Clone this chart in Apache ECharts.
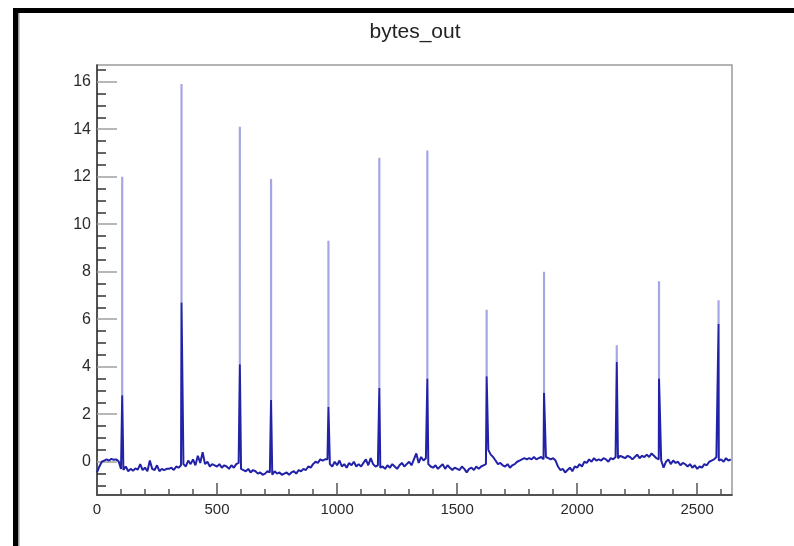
<!DOCTYPE html>
<html>
<head>
<meta charset="utf-8">
<title>bytes_out</title>
<script src="https://cdn.jsdelivr.net/npm/echarts@6/dist/echarts.min.js"></script>
<style>
  html, body { margin: 0; padding: 0; background: #ffffff; }
  #chart { width: 794px; height: 546px; }
</style>
</head>
<body>
<div id="chart"></div>
<script>
// Baseline samples of bytes_out, one every sampleStep bins starting at sampleStart
const sampleStart = 0;
const sampleStep = 10;
const baseline = [
  -0.45, -0.2, 0.0, 0.05, 0.1, 0.05, 0.12, 0.08, 0.1, 0.02,
  -0.3, -0.35, -0.2, -0.4, -0.3, -0.38, -0.28, -0.33, -0.1, -0.35,
  -0.25, -0.4, 0.05, -0.3, -0.35, -0.15, -0.4, -0.3, -0.35, -0.3,
  -0.3, -0.25, -0.35, -0.2, -0.25, -0.15, -0.1, -0.2, 0.05, -0.1,
  0.1, -0.15, 0.25, -0.05, 0.4, -0.1, 0.0, -0.2, -0.1, -0.15,
  -0.2, -0.1, -0.25, -0.15, -0.2, -0.3, -0.15, -0.25, -0.1, -0.05,
  -0.3, -0.35, -0.4, -0.3, -0.45, -0.35, -0.4, -0.5, -0.45, -0.55,
  -0.5, -0.4, -0.45, -0.55, -0.4, -0.5, -0.45, -0.55, -0.5, -0.45,
  -0.55, -0.45, -0.4, -0.5, -0.35, -0.4, -0.3, -0.35, -0.2, -0.25,
  -0.1, 0.0, -0.05, 0.1, 0.05, 0.1, 0.1, -0.1, -0.2, 0.0,
  -0.15, 0.05, -0.2, -0.1, -0.25, -0.05, -0.15, 0.0, -0.2, -0.1,
  -0.2, -0.05, 0.1, -0.15, 0.15, -0.1, -0.2, -0.15, -0.25, -0.2,
  -0.3, -0.15, -0.25, -0.1, -0.2, -0.3, -0.15, -0.05, -0.2, -0.1,
  0.0, -0.15, 0.1, 0.35, -0.05, 0.2, 0.05, 0.15, -0.1, -0.2,
  -0.25, -0.15, -0.3, -0.2, -0.1, -0.3, -0.15, -0.25, -0.35, -0.25,
  -0.3, -0.35, -0.2, -0.3, -0.45, -0.3, -0.25, -0.35, -0.2, -0.3,
  -0.2, -0.15, -0.1, 0.5, 0.3, 0.2, 0.05, -0.1, -0.05, -0.15,
  -0.2, -0.1, -0.25, -0.15, -0.1, 0.0, 0.05, 0.1, 0.15, 0.1,
  0.15, 0.1, 0.2, 0.1, 0.15, 0.2, 0.1, 0.2, 0.15, 0.1,
  0.15, 0.05, -0.2, -0.35, -0.3, -0.45, -0.35, -0.25, -0.4, -0.2,
  -0.25, -0.1, -0.2, 0.0, -0.05, 0.1, 0.0, 0.15, 0.05, 0.1,
  0.05, 0.15, 0.1, 0.0, 0.15, 0.1, 0.2, 0.15, 0.25, 0.2,
  0.15, 0.25, 0.2, 0.1, 0.2, 0.3, 0.15, 0.25, 0.2, 0.3,
  0.2, 0.35, 0.25, 0.15, 0.1, 0.05, -0.25, 0.0, 0.1, -0.1,
  0.05, -0.05, 0.0, -0.15, -0.05, -0.1, -0.2, -0.1, -0.25, -0.15,
  -0.3, -0.2, -0.25, -0.1, -0.15, 0.0, 0.05, 0.1, 0.2, 0.05,
  0.1, 0.0, 0.15, 0.05, 0.1
];

// Bursts: bin position, single-bin peak, and height of the neighbouring bins
const spikeX    = [105, 352, 595, 725, 964, 1176, 1376, 1623, 1862, 2165, 2341, 2589];
const spikePeak = [12.0, 15.9, 14.1, 11.9, 9.3, 12.8, 13.1, 6.4, 8.0, 4.9, 7.6, 6.8];
const spikeBody = [2.8, 6.7, 4.1, 2.6, 2.3, 3.1, 3.5, 3.6, 2.9, 4.2, 3.5, 5.8];

// Axis range and tick positions
const xMin = 0, xMax = 2645;
const yMin = -1.4, yMax = 16.7;
const xMajorTicks = [0, 500, 1000, 1500, 2000, 2500];
const xMinorTicks = [100, 200, 300, 400, 600, 700, 800, 900, 1100, 1200, 1300, 1400,
  1600, 1700, 1800, 1900, 2100, 2200, 2300, 2400, 2600];
const yMajorTicks = [0, 2, 4, 6, 8, 10, 12, 14, 16];
const yMinorTicks = [-1, -0.5, 0.5, 1, 1.5, 2.5, 3, 3.5, 4.5, 5, 5.5, 6.5, 7, 7.5,
  8.5, 9, 9.5, 10.5, 11, 11.5, 12.5, 13, 13.5, 14.5, 15, 15.5, 16.5];

// Merge baseline samples and burst bins into one ordered polyline
const mainData = baseline.map((v, i) => [sampleStart + i * sampleStep, v]);
spikeX.forEach((x, i) => mainData.push([x, spikeBody[i]]));
mainData.sort((a, b) => a[0] - b[0]);

// Thin tops of the bursts, one broken segment each
const peakData = [];
spikeX.forEach((x, i) => {
  peakData.push([x, spikeBody[i]], [x, spikePeak[i]], [x, '-']);
});

const labelFont = { fontFamily: 'Liberation Sans, Arial, sans-serif', fontSize: 15, color: '#2a2a2a' };
const plainNumber = v => String(v);

const chart = echarts.init(document.getElementById('chart'), null, { renderer: 'canvas' });
chart.setOption({
  animation: false,
  backgroundColor: '#ffffff',
  title: {
    text: 'bytes_out',
    left: 410,
    top: 17,
    textAlign: 'center',
    textStyle: { fontFamily: 'Liberation Sans, Arial, sans-serif', fontSize: 21, fontWeight: 'normal', color: '#222222' }
  },
  graphic: [
    { type: 'rect', shape: { x: 13, y: 8, width: 781, height: 5 }, style: { fill: '#000000' }, silent: true },
    { type: 'rect', shape: { x: 13, y: 8, width: 5, height: 538 }, style: { fill: '#000000' }, silent: true },
    { type: 'rect', shape: { x: 18, y: 13, width: 1.5, height: 533 }, style: { fill: '#9a9a9a' }, silent: true }
  ],
  grid: {
    left: 97, right: 62, top: 65, bottom: 51,
    show: true, borderColor: '#9a9a9a', borderWidth: 1.5,
    outerBoundsMode: 'none'
  },
  xAxis: [
    {
      type: 'value', min: xMin, max: xMax, position: 'bottom',
      axisLine: { show: true, onZero: false, lineStyle: { color: '#333333', width: 1.5 } },
      axisTick: { show: true, inside: true, length: 12, customValues: xMajorTicks, lineStyle: { color: '#555555', width: 1.5 } },
      axisLabel: Object.assign({ customValues: xMajorTicks, margin: 7, formatter: plainNumber }, labelFont),
      splitLine: { show: false }
    },
    {
      type: 'value', min: xMin, max: xMax, position: 'bottom',
      axisLine: { show: false, onZero: false },
      axisTick: { show: true, inside: true, length: 6, customValues: xMinorTicks, lineStyle: { color: '#555555', width: 1.5 } },
      axisLabel: { show: false },
      splitLine: { show: false }
    }
  ],
  yAxis: [
    {
      type: 'value', min: yMin, max: yMax, position: 'left',
      axisLine: { show: true, onZero: false, lineStyle: { color: '#333333', width: 1.5 } },
      axisTick: { show: true, inside: true, length: 20, customValues: yMajorTicks, lineStyle: { color: '#a0a0a0', width: 1.5 } },
      axisLabel: Object.assign({ customValues: yMajorTicks, margin: 6, formatter: plainNumber }, labelFont, { fontSize: 16 }),
      splitLine: { show: false }
    },
    {
      type: 'value', min: yMin, max: yMax, position: 'left',
      axisLine: { show: false, onZero: false },
      axisTick: { show: true, inside: true, length: 9, customValues: yMinorTicks, lineStyle: { color: '#333333', width: 1.5 } },
      axisLabel: { show: false },
      splitLine: { show: false }
    }
  ],
  series: [
    {
      name: 'peaks',
      type: 'line',
      xAxisIndex: 0, yAxisIndex: 0,
      data: peakData,
      showSymbol: false,
      connectNulls: false,
      lineStyle: { color: '#a6a6e4', width: 2.2 },
      z: 2
    },
    {
      name: 'bytes_out',
      type: 'line',
      xAxisIndex: 0, yAxisIndex: 0,
      data: mainData,
      showSymbol: false,
      lineStyle: { color: '#2222a8', width: 2 },
      z: 3
    }
  ]
});
</script>
</body>
</html>
